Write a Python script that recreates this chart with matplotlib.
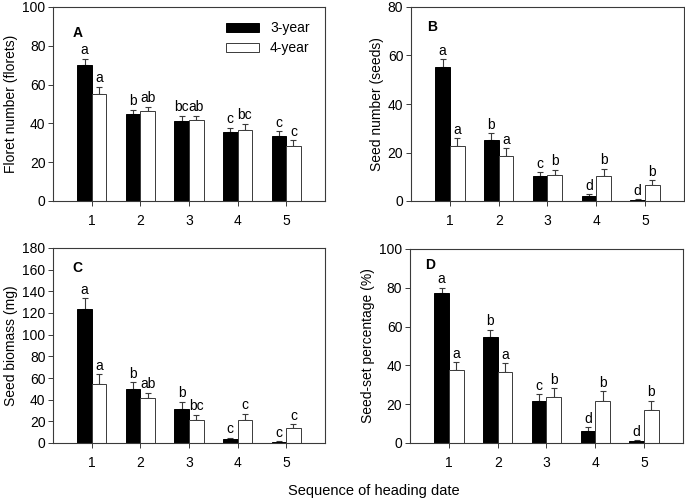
import numpy as np
import matplotlib
matplotlib.use("Agg")
import matplotlib.pyplot as plt

plt.rcParams['font.family'] = ['Liberation Sans', 'DejaVu Sans']
plt.rcParams['font.size'] = 10

groups = [1, 2, 3, 4, 5]
series = ["3-year", "4-year"]

# ----------------------------
# Data (means, upper error, letters)
# ----------------------------
floret_3 = [70.3, 44.6, 41.0, 35.6, 33.5]
floret_3_err = [3.1, 2.4, 2.9, 2.2, 2.5]
floret_4 = [54.9, 46.5, 41.5, 36.6, 28.5]
floret_4_err = [4.1, 2.2, 2.4, 3.2, 2.8]
floret_3_lab = ["a", "b", "bc", "c", "c"]
floret_4_lab = ["a", "ab", "ab", "bc", "c"]

seed_3 = [55.4, 25.0, 10.5, 2.0, 0.3]
seed_3_err = [3.0, 3.0, 1.5, 0.7, 0.4]
seed_4 = [22.6, 18.7, 10.7, 10.5, 6.4]
seed_4_err = [3.4, 3.0, 2.2, 2.8, 2.2]
seed_3_lab = ["a", "b", "c", "d", "d"]
seed_4_lab = ["a", "a", "b", "b", "b"]

biomass_3 = [124.0, 49.8, 31.4, 3.7, 0.9]
biomass_3_err = [9.8, 6.5, 6.8, 1.2, 0.9]
biomass_4 = [54.8, 41.8, 21.5, 21.5, 13.8]
biomass_4_err = [8.9, 4.7, 4.7, 5.5, 3.7]
biomass_3_lab = ["a", "b", "b", "c", "c"]
biomass_4_lab = ["a", "ab", "bc", "c", "c"]

setpct_3 = [77.3, 54.5, 21.8, 6.4, 0.9]
setpct_3_err = [2.7, 3.9, 3.5, 1.8, 0.6]
setpct_4 = [37.5, 36.6, 23.7, 21.6, 17.2]
setpct_4_err = [4.1, 4.6, 4.7, 5.0, 4.6]
setpct_3_lab = ["a", "b", "c", "d", "d"]
setpct_4_lab = ["a", "a", "b", "b", "b"]

SPINE = "#3a3a3a"
W = 0.3


def draw_panel(ax, v3, e3, v4, e4, l3, l4, ymax, ystep, ylabel, letter, lpos):
    x = np.array(groups, dtype=float)
    ax.bar(x - W / 2, v3, W, color="black", edgecolor="black", linewidth=0.7,
           label=series[0], zorder=2)
    ax.bar(x + W / 2, v4, W, color="white", edgecolor=SPINE, linewidth=0.7,
           label=series[1], zorder=2)
    ax.errorbar(x - W / 2, v3, yerr=[np.zeros(5), e3], fmt="none",
                ecolor=SPINE, elinewidth=0.8, capsize=2.5, capthick=0.8, zorder=1)
    ax.errorbar(x + W / 2, v4, yerr=[np.zeros(5), e4], fmt="none",
                ecolor=SPINE, elinewidth=0.8, capsize=2.5, capthick=0.8, zorder=1)
    for xi, v, e, t in zip(x - W / 2, v3, e3, l3):
        ax.annotate(t, (xi, v + e), xytext=(0, 1), textcoords="offset points",
                    ha="center", va="bottom", fontsize=10)
    for xi, v, e, t in zip(x + W / 2, v4, e4, l4):
        ax.annotate(t, (xi, v + e), xytext=(0, 1), textcoords="offset points",
                    ha="center", va="bottom", fontsize=10)
    ax.set_xlim(0.2, 5.8)
    ax.set_ylim(0, ymax)
    ax.set_yticks(np.arange(0, ymax + 1, ystep))
    ax.set_xticks(groups)
    ax.set_ylabel(ylabel, fontsize=10, labelpad=3)
    ax.tick_params(direction="out", length=3.5, width=0.7, color=SPINE,
                   labelsize=10, pad=2)
    ax.tick_params(axis="x", pad=6)
    for s in ax.spines.values():
        s.set_color(SPINE)
        s.set_linewidth(0.8)
    ax.text(lpos[0], lpos[1], letter, transform=ax.transAxes, fontsize=10,
            fontweight="bold", ha="left", va="center")


fig = plt.figure(figsize=(6.85, 5), dpi=100)
axA = fig.add_axes([0.0774, 0.598, 0.397, 0.388])
axB = fig.add_axes([0.600, 0.598, 0.3985, 0.388])
axC = fig.add_axes([0.0774, 0.114, 0.397, 0.390])
axD = fig.add_axes([0.5985, 0.114, 0.3985, 0.388])

draw_panel(axA, floret_3, floret_3_err, floret_4, floret_4_err,
           floret_3_lab, floret_4_lab, 100, 20, "Floret number (florets)", "A",
           (0.072, 0.866))
draw_panel(axB, seed_3, seed_3_err, seed_4, seed_4_err,
           seed_3_lab, seed_4_lab, 80, 20, "Seed number (seeds)", "B",
           (0.058, 0.897))
draw_panel(axC, biomass_3, biomass_3_err, biomass_4, biomass_4_err,
           biomass_3_lab, biomass_4_lab, 180, 20, "Seed biomass (mg)", "C",
           (0.072, 0.897))
draw_panel(axD, setpct_3, setpct_3_err, setpct_4, setpct_4_err,
           setpct_3_lab, setpct_4_lab, 100, 20, "Seed-set percentage (%)", "D",
           (0.055, 0.917))

axA.legend(loc="upper right", frameon=False, fontsize=10, handlelength=2.4,
           handleheight=0.6, labelspacing=0.4, borderaxespad=0.5,
           bbox_to_anchor=(0.99, 0.99))

fig.text(0.546, 0.018, "Sequence of heading date", ha="center", va="center",
         fontsize=10.5)

fig.savefig("out.png", dpi=100)
plt.close(fig)
